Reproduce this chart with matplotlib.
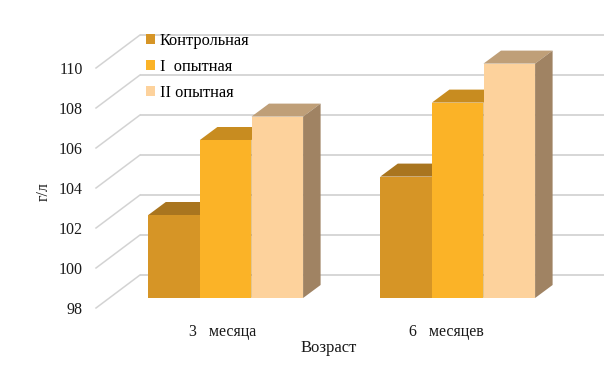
import matplotlib
matplotlib.use("Agg")
import matplotlib.pyplot as plt
from matplotlib.patches import Polygon, Rectangle, Patch

plt.rcParams['font.family'] = ['Liberation Serif', 'DejaVu Serif']

# ---- data ----
groups = ["3   месяца", "6   месяцев"]
series_names = ["Контрольная", "I  опытная", "II опытная"]
control = [102.15, 104.07]
first = [105.9, 107.77]
second = [107.07, 109.72]
y_ticks = [98, 100, 102, 104, 106, 108, 110]

# ---- style ----
front_cols = ["#d69526", "#fbb327", "#fdd29c"]
top_cols = ["#a9751f", "#c88c20", "#bf9f78"]
side_cols = ["#a97a22", "#c88c20", "#a08363"]
GRID = "#d3d3d3"
W, H = 610, 365
PX_X = 232.0      # pixels per group step
PX_Y = 20.0       # pixels per value unit
X0 = 225.7        # pixel of first group centre
Y98 = 308.0       # pixel of the axis baseline
AX_L, AX_R, AX_T, AX_B = 87, 604, 20, 325

fig = plt.figure(figsize=(W / 100, H / 100), dpi=100, facecolor="white")
ax = fig.add_axes([AX_L / W, 1 - AX_B / H, (AX_R - AX_L) / W, (AX_B - AX_T) / H])
ax.set_xlim((AX_L - X0) / PX_X, (AX_R - X0) / PX_X)
ax.set_ylim(98 - (AX_B - Y98) / PX_Y, 98 + (Y98 - AX_T) / PX_Y)
for s in ax.spines.values():
    s.set_visible(False)

# depth offsets (data units)
wall_dx, wall_dy = 44 / PX_X, 33 / PX_Y
bar_dx, bar_dy = 13 / PX_X, 10 / PX_Y
depth_dx, depth_dy = 17.5 / PX_X, 13 / PX_Y
x_front = (96 - X0) / PX_X

for v in y_ticks:
    ax.plot([x_front, x_front + wall_dx], [v, v + wall_dy], color=GRID, lw=1.1, zorder=1)
    ax.plot([x_front + wall_dx, ax.get_xlim()[1]], [v + wall_dy, v + wall_dy],
            color=GRID, lw=1.3, zorder=1, solid_capstyle="butt")

# 3D bars
bar_w = 51.6 / PX_X
series = [control, first, second]
z = 2
for g in range(len(groups)):
    for i, vals in enumerate(series):
        x = g + (i - 1.5) * bar_w
        b = 98 + bar_dy
        t = vals[g] + bar_dy
        ax.add_patch(Polygon([(x, t), (x + depth_dx, t + depth_dy),
                              (x + bar_w + depth_dx, t + depth_dy), (x + bar_w, t)],
                             closed=True, fc=top_cols[i], ec="none", zorder=z))
        ax.add_patch(Polygon([(x + bar_w, b), (x + bar_w + depth_dx, b + depth_dy),
                              (x + bar_w + depth_dx, t + depth_dy), (x + bar_w, t)],
                             closed=True, fc=side_cols[i], ec="none", zorder=z))
        ax.add_patch(Rectangle((x, b), bar_w, t - b, fc=front_cols[i], ec="none", zorder=z + 1))
        z += 2

# axes text
label_shift = [-3.2 / PX_X, -11 / PX_X]
ax.set_xticks([g + s for g, s in zip(range(len(groups)), label_shift)])
ax.set_xticklabels(groups, fontsize=11.5)
ax.set_yticks(y_ticks)
ax.set_yticklabels([str(v) for v in y_ticks], fontsize=11.5, color="#1a1a1a")
ax.tick_params(axis="both", length=0)
ax.tick_params(axis="y", pad=3)
ax.tick_params(axis="x", pad=-1)
for lab in ax.get_xticklabels():
    lab.set_color("#1a1a1a")
ax.set_xlabel("Возраст", fontsize=12, color="#1a1a1a")
ax.xaxis.set_label_coords((329 - AX_L) / (AX_R - AX_L), -(340 - AX_B) / (AX_B - AX_T))
ax.set_ylabel("г/л", fontsize=11.5, color="#1a1a1a")
ax.yaxis.set_label_coords((52 - AX_L) / (AX_R - AX_L), (AX_B - 192) / (AX_B - AX_T))

handles = [Patch(fc=c, ec="none") for c in front_cols]
leg = ax.legend(handles, series_names, loc="upper left", frameon=False,
                bbox_to_anchor=(146 / W, 1 - 33 / H), bbox_transform=fig.transFigure,
                fontsize=11.8, handlelength=0.55, handleheight=0.55, handletextpad=0.3,
                labelspacing=0.6, borderpad=0, borderaxespad=0)
leg.set_zorder(50)
fig.savefig("out.png", dpi=100, facecolor="white")
